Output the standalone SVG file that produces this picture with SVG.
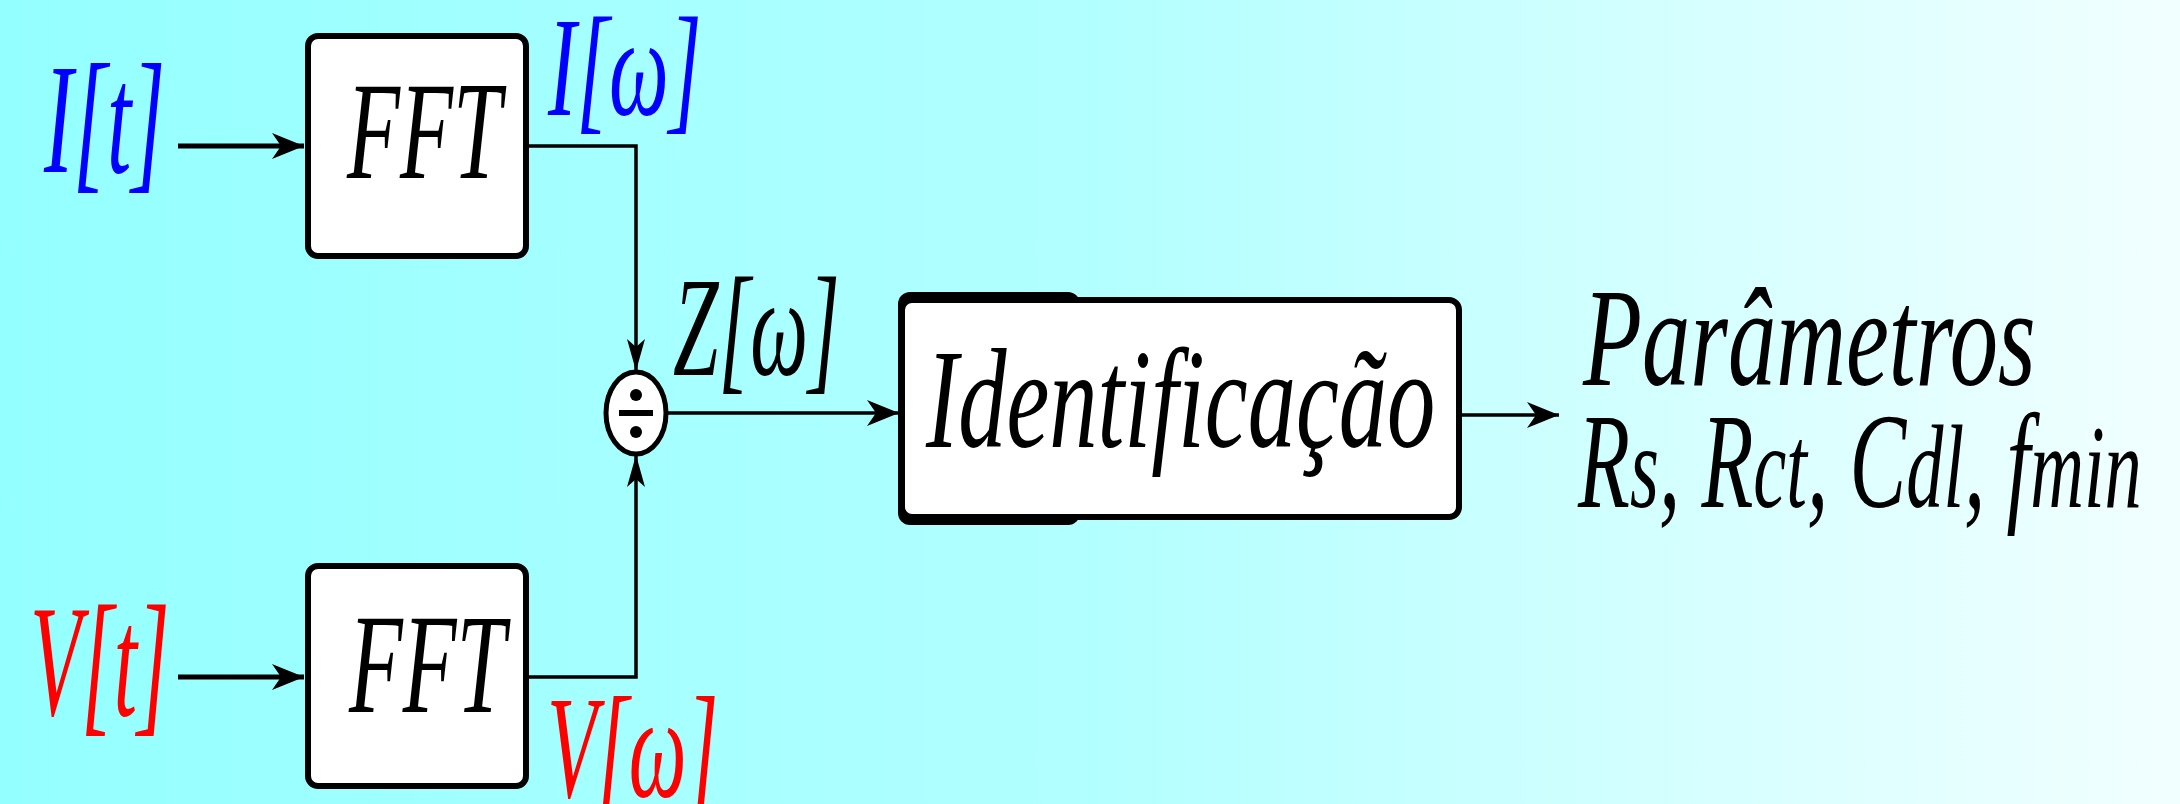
<svg xmlns="http://www.w3.org/2000/svg" width="2180" height="804" viewBox="0 0 2180 804">
<defs>
<linearGradient id="bg" x1="0" y1="0" x2="1" y2="0">
<stop offset="0" stop-color="#94FFFF"/>
<stop offset="0.5" stop-color="#B2FFFF"/>
<stop offset="1" stop-color="#F2FFFF"/>
</linearGradient>
<marker id="ah" markerUnits="userSpaceOnUse" viewBox="-34 -14 36 28" refX="0" refY="0" markerWidth="36" markerHeight="28" orient="auto">
<path d="M0,0 L-32,-13 L-23,0 L-32,13 Z" fill="#000"/>
</marker>
<marker id="ahn" markerUnits="userSpaceOnUse" viewBox="-34 -14 36 28" refX="0" refY="0" markerWidth="36" markerHeight="28" orient="auto">
<path d="M0,0 L-32,-9 L-24,0 L-32,9 Z" fill="#000"/>
</marker>
<style>
.box{fill:#fff;stroke:#000;stroke-width:6}
.cn{fill:none;stroke:#000;stroke-width:3.5}
.cin{fill:none;stroke:#000;stroke-width:5}
</style>
</defs>
<rect x="0" y="0" width="2180" height="804" fill="url(#bg)"/>

<g id="connectors">
<line class="cin" x1="178" y1="146" x2="304" y2="146" marker-end="url(#ah)"/>
<line class="cin" x1="178" y1="677" x2="304" y2="677" marker-end="url(#ah)"/>
<polyline class="cn" points="528,146 636,146 636,371" marker-end="url(#ahn)"/>
<polyline class="cn" points="528,677 636,677 636,455" marker-end="url(#ahn)"/>
<line class="cn" x1="667" y1="413" x2="899" y2="413" marker-end="url(#ah)"/>
<line class="cn" x1="1462" y1="415" x2="1559" y2="415" marker-end="url(#ah)"/>
</g>

<g id="label-It"><svg x="44" y="-28" width="560" height="250" viewBox="0 -200 1000 250" preserveAspectRatio="none" overflow="visible"><text font-family="Liberation Serif" font-style="italic" fill="#0000FF" x="0" y="0" font-size="156">I[t]</text></svg></g>
<g id="label-Vt"><svg x="30" y="515" width="530" height="250" viewBox="0 -200 1000 250" preserveAspectRatio="none" overflow="visible"><text font-family="Liberation Serif" font-style="italic" fill="#FF0000" x="0" y="0" font-size="158">V[t]</text></svg></g>

<g id="fft1">
<rect class="box" x="308" y="36" width="218" height="220" rx="10"/>
<svg x="347" y="-22" width="620" height="250" viewBox="0 -200 1000 250" preserveAspectRatio="none" overflow="visible"><text font-family="Liberation Serif" font-style="italic" fill="#000" x="0" y="0" font-size="140">FFT</text></svg>
</g>
<g id="fft2">
<rect class="box" x="308" y="566" width="218" height="220" rx="10"/>
<svg x="349" y="512" width="620" height="250" viewBox="0 -200 1000 250" preserveAspectRatio="none" overflow="visible"><text font-family="Liberation Serif" font-style="italic" fill="#000" x="0" y="0" font-size="142">FFT</text></svg>
</g>

<g id="label-Iw"><svg x="548" y="-85" width="600" height="250" viewBox="0 -200 1000 250" preserveAspectRatio="none" overflow="visible"><text font-family="Liberation Serif" font-style="italic" fill="#0000FF" x="0" y="0" font-size="141">I[ω]</text></svg></g>
<g id="label-Vw"><svg x="547" y="597" width="560" height="250" viewBox="0 -200 1000 250" preserveAspectRatio="none" overflow="visible"><text font-family="Liberation Serif" font-style="italic" fill="#FF0000" x="0" y="0" font-size="146">V[ω]</text></svg></g>

<g id="divider">
<ellipse cx="636" cy="413" rx="30" ry="41" fill="#fff" stroke="#000" stroke-width="5"/>
<rect x="619" y="410" width="34" height="6" fill="#000"/>
<circle cx="636" cy="395" r="6" fill="#000"/>
<circle cx="636" cy="432" r="6" fill="#000"/>
</g>

<g id="label-Zw"><svg x="673" y="175" width="580" height="250" viewBox="0 -200 1000 250" preserveAspectRatio="none" overflow="visible"><text font-family="Liberation Serif" font-style="italic" fill="#000" x="0" y="0" font-size="141">Z[ω]</text></svg></g>

<g id="identificacao">
<rect x="898" y="292" width="182" height="233" rx="12" fill="#000"/>
<rect class="box" x="902" y="300" width="557" height="217" rx="10"/>
<svg x="926" y="247" width="680" height="250" viewBox="0 -200 1000 250" preserveAspectRatio="none" overflow="visible"><text font-family="Liberation Serif" font-style="italic" fill="#000" x="0" y="0" font-size="142">Identificação</text></svg>
</g>

<g id="parametros">
<svg x="1583" y="185" width="690" height="250" viewBox="0 -200 1000 250" preserveAspectRatio="none" overflow="visible"><text font-family="Liberation Serif" font-style="italic" fill="#000" x="0" y="0" font-size="140">Parâmetros</text></svg>
<svg x="1578" y="307" width="630" height="250" viewBox="0 -200 1000 250" preserveAspectRatio="none" overflow="visible"><text font-family="Liberation Serif" font-style="italic" fill="#000" x="0" y="0" font-size="135">R<tspan font-size="118">s</tspan>, R<tspan font-size="118">ct</tspan>, C<tspan font-size="118">dl</tspan>, f<tspan font-size="118">min</tspan></text></svg>
</g>
</svg>
